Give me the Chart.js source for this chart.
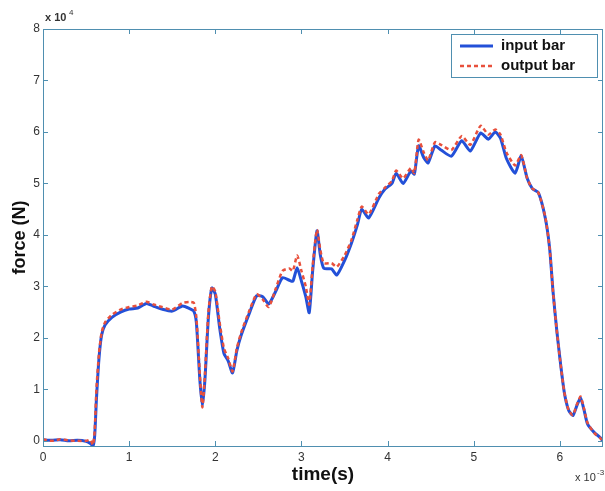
<!DOCTYPE html>
<html>
<head>
<meta charset="utf-8">
<script src="https://cdn.jsdelivr.net/npm/chart.js@4"></script>
<style>
  html, body { margin: 0; padding: 0; background: #fff; }
  #wrap { width: 605px; height: 491px; }
</style>
</head>
<body>
<div id="wrap"><canvas id="force-chart"></canvas></div>
<script>
// time in ms (x 10^-3 s), force in x 10^4 N
const timeMs = [0.00,0.10,0.20,0.30,0.40,0.50,0.55,0.58,0.60,0.62,0.65,0.68,0.72,0.80,0.90,1.00,1.10,1.20,1.28,1.38,
  1.50,1.62,1.70,1.75,1.78,1.82,1.85,1.88,1.92,1.96,2.00,2.05,2.10,2.15,2.20,2.25,2.30,2.40,2.48,2.55,
  2.62,2.70,2.78,2.86,2.90,2.95,3.00,3.05,3.09,3.13,3.18,3.22,3.26,3.35,3.41,3.50,3.58,3.65,3.70,3.78,
  3.90,3.97,4.05,4.10,4.18,4.27,4.31,4.36,4.42,4.47,4.55,4.62,4.74,4.86,4.96,5.08,5.17,5.25,5.31,5.38,
  5.48,5.55,5.62,5.68,5.75,5.83,5.88,5.92,5.96,6.00,6.05,6.10,6.15,6.20,6.24,6.28,6.32,6.40,6.47,6.52];
const inputBar = [0.02,0.01,0.02,0.00,0.01,-0.01,-0.05,-0.10,0.10,0.80,1.60,2.05,2.25,2.40,2.50,2.56,2.58,2.67,2.62,2.56,
  2.52,2.62,2.57,2.52,2.30,1.20,0.68,1.20,2.40,2.97,2.85,2.20,1.70,1.55,1.32,1.75,2.05,2.50,2.82,2.80,
  2.66,2.90,3.17,3.12,3.10,3.36,3.10,2.80,2.49,3.30,4.08,3.60,3.35,3.34,3.22,3.50,3.84,4.20,4.50,4.33,
  4.72,4.89,5.00,5.20,5.00,5.24,5.18,5.73,5.50,5.40,5.73,5.65,5.53,5.83,5.63,5.98,5.86,6.00,5.88,5.48,
  5.20,5.53,5.10,4.90,4.82,4.33,3.75,2.90,2.20,1.60,0.95,0.60,0.49,0.70,0.83,0.60,0.33,0.16,0.06,-0.05];
const outputBar = [0.03,0.00,0.03,0.01,0.00,0.00,0.02,-0.08,0.20,1.00,1.70,2.10,2.30,2.45,2.55,2.60,2.63,2.70,2.65,2.60,
  2.55,2.68,2.70,2.68,2.40,1.30,0.65,1.30,2.50,3.00,2.90,2.30,1.80,1.60,1.35,1.80,2.10,2.55,2.85,2.75,
  2.60,2.95,3.30,3.35,3.30,3.60,3.30,3.00,2.65,3.40,4.10,3.70,3.45,3.45,3.38,3.60,3.90,4.30,4.55,4.40,
  4.80,4.92,5.05,5.25,5.10,5.30,5.20,5.85,5.60,5.45,5.80,5.75,5.65,5.92,5.75,6.12,5.95,6.05,5.95,5.60,
  5.35,5.55,5.10,4.90,4.82,4.35,3.75,2.90,2.20,1.60,0.95,0.60,0.50,0.72,0.86,0.62,0.35,0.15,0.05,-0.05];
const xTicks = [0, 1, 2, 3, 4, 5, 6];
const yTicks = [0, 1, 2, 3, 4, 5, 6, 7, 8];
const seriesNames = ["input bar", "output bar"];

const axisColor = "#4f8fb0";
const blue = "#2350d8";
const red = "#e8503c";

function toPoints(xs, ys) {
  return xs.map((x, i) => ({ x: x, y: ys[i] }));
}

// matlab style box with inward ticks, exponent labels and boxed legend
const framePlugin = {
  id: "frame",
  afterDraw(chart) {
    const ctx = chart.ctx;
    const a = chart.chartArea;
    const xs = chart.scales.x, ys = chart.scales.y;
    ctx.save();
    ctx.strokeStyle = axisColor;
    ctx.lineWidth = 1;
    ctx.strokeRect(a.left + 0.5, a.top + 0.5, a.right - a.left - 1, a.bottom - a.top);
    ctx.beginPath();
    xTicks.forEach(v => {
      const px = Math.round(xs.getPixelForValue(v)) + 0.5;
      ctx.moveTo(px, a.bottom); ctx.lineTo(px, a.bottom - 5);
      ctx.moveTo(px, a.top); ctx.lineTo(px, a.top + 5);
    });
    yTicks.forEach(v => {
      const py = Math.round(ys.getPixelForValue(v)) + 0.5;
      ctx.moveTo(a.left, py); ctx.lineTo(a.left + 5, py);
      ctx.moveTo(a.right, py); ctx.lineTo(a.right - 5, py);
    });
    ctx.stroke();

    // exponents
    ctx.fillStyle = "#333";
    ctx.font = "bold 11px 'Liberation Sans'";
    ctx.textBaseline = "alphabetic";
    ctx.fillText("x 10", a.left + 2, a.top - 8);
    ctx.font = "8px 'Liberation Sans'";
    ctx.fillText("4", a.left + 26, a.top - 14);
    ctx.font = "11px 'Liberation Sans'";
    ctx.fillText("x 10", a.right - 28, a.bottom + 35);
    ctx.font = "8px 'Liberation Sans'";
    ctx.fillText("-3", a.right - 6, a.bottom + 29);

    // legend
    const lx = 451, ly = 34, lw = 146, lh = 43;
    ctx.fillStyle = "#fff";
    ctx.fillRect(lx, ly, lw, lh);
    ctx.strokeStyle = axisColor;
    ctx.lineWidth = 1;
    ctx.strokeRect(lx + 0.5, ly + 0.5, lw, lh);
    chart.data.datasets.forEach((ds, i) => {
      const y = ly + 12 + i * 20;
      ctx.strokeStyle = ds.borderColor;
      ctx.lineWidth = ds.borderWidth;
      ctx.setLineDash(ds.borderDash || []);
      ctx.beginPath();
      ctx.moveTo(lx + 9, y); ctx.lineTo(lx + 42, y);
      ctx.stroke();
      ctx.setLineDash([]);
      ctx.fillStyle = "#111";
      ctx.font = "bold 15px 'Liberation Sans'";
      ctx.textBaseline = "middle";
      ctx.fillText(ds.label, lx + 50, y);
    });
    ctx.restore();
  }
};

new Chart("force-chart", {
  type: "line",
  data: {
    datasets: [
      {
        label: seriesNames[0],
        data: toPoints(timeMs, inputBar),
        borderColor: blue,
        borderWidth: 3,
        pointRadius: 0,
        tension: 0.2,
        order: 2
      },
      {
        label: seriesNames[1],
        data: toPoints(timeMs, outputBar),
        borderColor: red,
        borderWidth: 2.5,
        borderDash: [4, 3],
        pointRadius: 0,
        tension: 0.2,
        order: 1
      }
    ]
  },
  options: {
    responsive: true,
    maintainAspectRatio: false,
    animation: false,
    layout: { padding: { top: 29, right: 2, left: 0, bottom: 0 } },
    plugins: { legend: { display: false }, tooltip: { enabled: false } },
    scales: {
      x: {
        type: "linear",
        min: 0,
        max: 6.5,
        afterBuildTicks: s => { s.ticks = xTicks.map(v => ({ value: v })); },
        afterFit: s => { s.height = 45; },
        grid: { display: false, drawTicks: false, tickLength: 0 },
        border: { display: false },
        ticks: { color: "#333", padding: 4, font: { family: "Liberation Sans", size: 12 } },
        title: {
          display: true,
          text: "time(s)",
          color: "#111",
          padding: { top: 0, bottom: 5 },
          font: { family: "Liberation Sans", size: 19, weight: "bold" }
        }
      },
      y: {
        min: -0.1,
        max: 8,
        afterBuildTicks: s => { s.ticks = yTicks.map(v => ({ value: v })); },
        afterFit: s => { s.width = 43; },
        grid: { display: false, drawTicks: false, tickLength: 0 },
        border: { display: false },
        ticks: { color: "#333", padding: 3, font: { family: "Liberation Sans", size: 12 } },
        title: {
          display: true,
          text: "force (N)",
          color: "#111",
          padding: { top: 9, bottom: 0 },
          font: { family: "Liberation Sans", size: 18, weight: "bold" }
        }
      }
    }
  },
  plugins: [framePlugin]
});
</script>
</body>
</html>
